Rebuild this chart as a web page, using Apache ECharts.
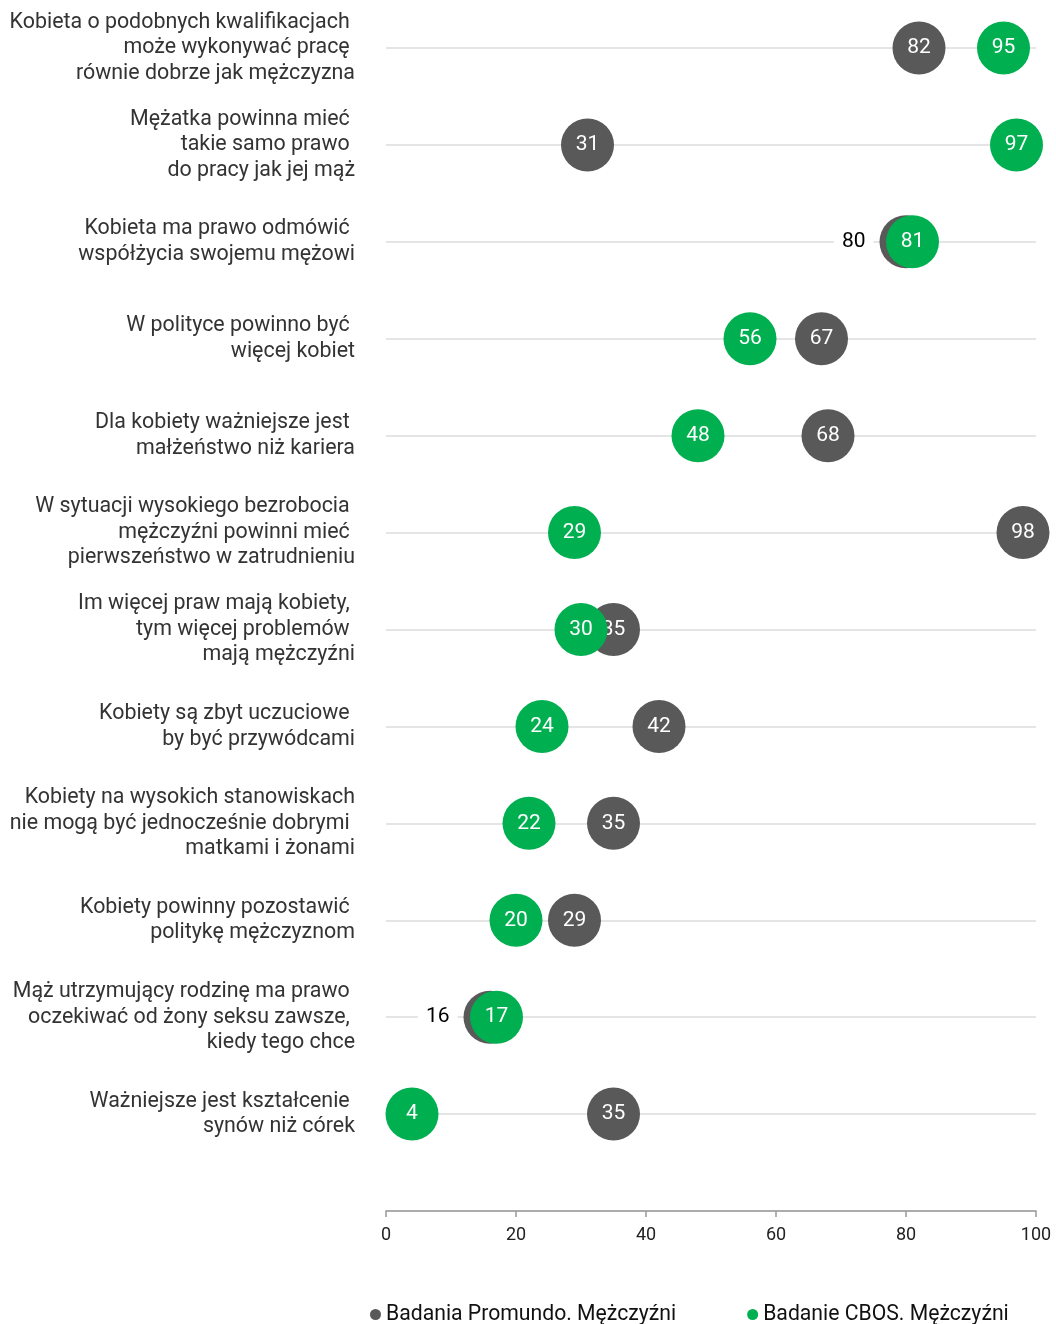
<!DOCTYPE html>
<html>
<head>
<meta charset="utf-8">
<script src="https://cdn.jsdelivr.net/npm/echarts@6/dist/echarts.min.js"></script>
<style>
  html, body { margin: 0; padding: 0; background: #fff; }
  #chart { width: 1056px; height: 1324px; }
</style>
</head>
<body>
<div id="chart"></div>
<script>
// kategorie (pytania), od góry
const categories = [
  'Kobieta o podobnych kwalifikacjach \nmoże wykonywać pracę \nrównie dobrze jak mężczyzna',
  'Mężatka powinna mieć \ntakie samo prawo \ndo pracy jak jej mąż',
  'Kobieta ma prawo odmówić \nwspółżycia swojemu mężowi',
  'W polityce powinno być \nwięcej kobiet',
  'Dla kobiety ważniejsze jest \nmałżeństwo niż kariera',
  'W sytuacji wysokiego bezrobocia \nmężczyźni powinni mieć \npierwszeństwo w zatrudnieniu',
  'Im więcej praw mają kobiety, \ntym więcej problemów \nmają mężczyźni',
  'Kobiety są zbyt uczuciowe \nby być przywódcami',
  'Kobiety na wysokich stanowiskach\nnie mogą być jednocześnie dobrymi \nmatkami i żonami',
  'Kobiety powinny pozostawić \npolitykę mężczyznom',
  'Mąż utrzymujący rodzinę ma prawo \noczekiwać od żony seksu zawsze, \nkiedy tego chce',
  'Ważniejsze jest kształcenie \nsynów niż córek',
  ''
];
const promundo = [82, 31, 80, 67, 68, 98, 35, 42, 35, 29, 16, 35];
const cbos = [95, 97, 81, 56, 48, 29, 30, 24, 22, 20, 17, 4];
const seriesNames = ['Badania Promundo. Mężczyźni', 'Badanie CBOS. Mężczyźni'];
const xTicks = [0, 20, 40, 60, 80, 100];

const FONT = 'Roboto, "Noto Sans", sans-serif';
const GRAY = '#595959';
const GREEN = '#00b050';

// przy bliskich wartościach etykieta szarej kropki idzie na lewo
function grayPoint(v, i) {
  const close = Math.abs(v - cbos[i]) <= 2;
  return {
    value: [v, categories[i]],
    label: close ? {
      position: 'left', distance: 6, color: '#000',
      backgroundColor: '#fff', padding: [2, 8]
    } : undefined
  };
}

const chart = echarts.init(document.getElementById('chart'));
chart.setOption({
  animation: false,
  textStyle: { fontFamily: FONT },
  grid: { left: 386, right: 20, top: 48, bottom: 113, containLabel: false },
  legend: {
    top: 1299, left: 365,
    itemWidth: 11, itemHeight: 11, itemGap: 71,
    icon: 'circle',
    textStyle: { fontSize: 21.2, color: '#111', fontFamily: FONT },
    data: seriesNames
  },
  xAxis: {
    type: 'value', min: 0, max: 100, interval: 20,
    axisLine: { show: true, lineStyle: { color: '#999', width: 1.5 } },
    axisTick: { show: true, length: 6, lineStyle: { color: '#999', width: 1.5 } },
    axisLabel: { fontSize: 18, color: '#222', margin: 15,
      formatter: v => xTicks.includes(v) ? String(v) : '' },
    splitLine: { show: false }
  },
  yAxis: {
    type: 'category', data: categories, inverse: true, boundaryGap: false,
    axisLine: { show: false }, axisTick: { show: false },
    axisLabel: { fontSize: 21.4, color: '#333', lineHeight: 25.5, margin: 31, align: 'right', interval: 0 },
    splitLine: { show: true, interval: 0, lineStyle: { color: '#dcdcdc', width: 1.5 } }
  },
  series: [
    {
      name: seriesNames[0], type: 'scatter', symbolSize: 53,
      itemStyle: { color: GRAY, opacity: 1 },
      label: { show: true, position: 'inside', color: '#fff', fontSize: 21,
        formatter: p => p.value[0] },
      data: promundo.map(grayPoint), z: 2
    },
    {
      name: seriesNames[1], type: 'scatter', symbolSize: 53,
      itemStyle: { color: GREEN, opacity: 1 },
      label: { show: true, position: 'inside', color: '#fff', fontSize: 21,
        formatter: p => p.value[0] },
      data: cbos.map((v, i) => [v, categories[i]]), z: 3
    }
  ]
});
</script>
</body>
</html>
